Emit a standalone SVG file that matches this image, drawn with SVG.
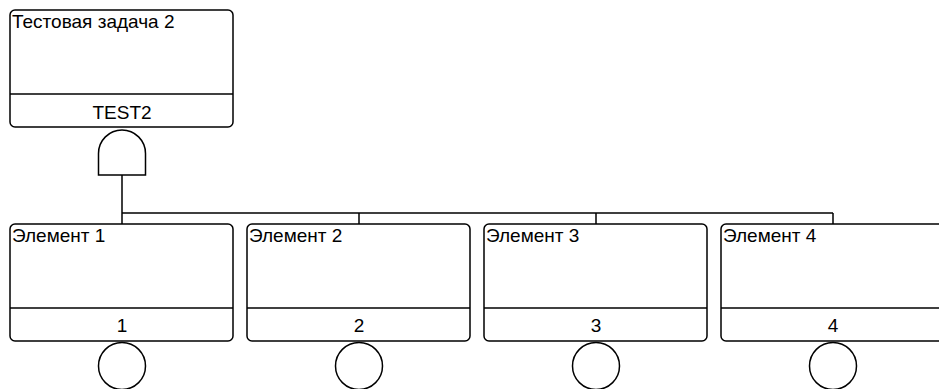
<svg xmlns="http://www.w3.org/2000/svg" width="939" height="389" viewBox="0 0 939 389">
<style>
.box{fill:#fff;stroke:#000;stroke-width:1.5}
.ln{fill:none;stroke:#000;stroke-width:1.5}
.t{font-family:"Liberation Sans",Arial,sans-serif;font-size:19px;fill:#000}
.c{text-anchor:middle}
</style>
<rect width="939" height="389" fill="#fff"/>
<g id="connectors">
<path class="ln" d="M122,175 V213 M122,213 H833 M122,213 V224 M359,213 V224 M596,213 V224 M833,213 V224"/>
</g>
<g id="top">
<rect class="box" x="10" y="10" width="223" height="117" rx="5"/>
<line class="ln" x1="10" y1="94" x2="233" y2="94"/>
<text class="t" x="12" y="28">Тестовая задача 2</text>
<text class="t c" x="122" y="119">TEST2</text>
</g>
<g id="gate">
<path class="box" d="M98.5,175 V153.5 A23.5,23.5 0 0 1 145.5,153.5 V175 Z"/>
</g>
<g id="e1">
<rect class="box" x="10" y="224" width="223" height="117" rx="5"/>
<line class="ln" x1="10" y1="308" x2="233" y2="308"/>
<text class="t" x="12" y="242">Элемент 1</text>
<text class="t c" x="122" y="332">1</text>
<circle class="box" cx="122" cy="366" r="23.5"/>
</g>
<g id="e2">
<rect class="box" x="247" y="224" width="223" height="117" rx="5"/>
<line class="ln" x1="247" y1="308" x2="470" y2="308"/>
<text class="t" x="249" y="242">Элемент 2</text>
<text class="t c" x="359" y="332">2</text>
<circle class="box" cx="359" cy="366" r="23.5"/>
</g>
<g id="e3">
<rect class="box" x="484" y="224" width="223" height="117" rx="5"/>
<line class="ln" x1="484" y1="308" x2="707" y2="308"/>
<text class="t" x="486" y="242">Элемент 3</text>
<text class="t c" x="596" y="332">3</text>
<circle class="box" cx="596" cy="366" r="23.5"/>
</g>
<g id="e4">
<rect class="box" x="721" y="224" width="223" height="117" rx="5"/>
<line class="ln" x1="721" y1="308" x2="944" y2="308"/>
<text class="t" x="723" y="242">Элемент 4</text>
<text class="t c" x="833" y="332">4</text>
<circle class="box" cx="833" cy="366" r="23.5"/>
</g>
</svg>
